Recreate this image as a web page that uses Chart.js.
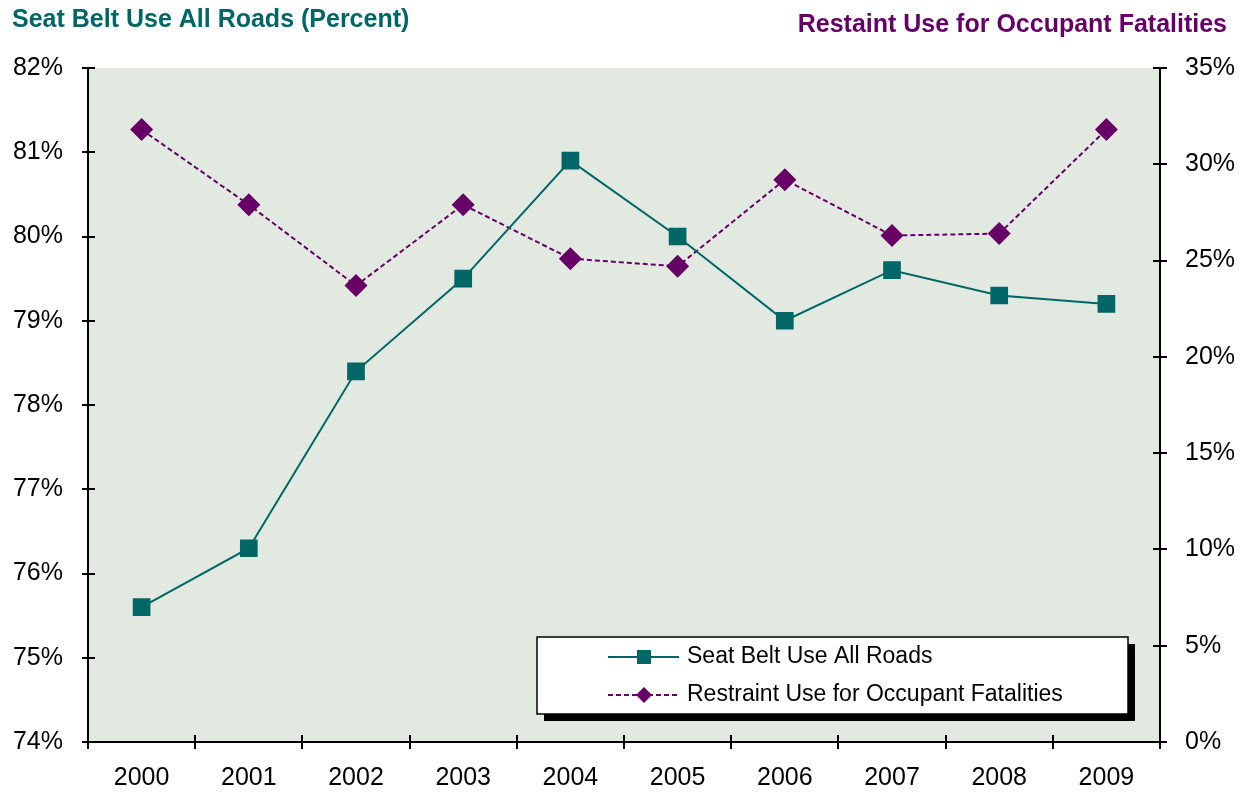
<!DOCTYPE html>
<html>
<head>
<meta charset="utf-8">
<script src="https://cdn.jsdelivr.net/npm/chart.js@4/dist/chart.umd.min.js"></script>
<style>
  body { margin: 0; background: #fff; }
  canvas { display: block; }
</style>
</head>
<body>
<canvas id="myChart" width="1245" height="795"></canvas>
<script>
const years = ['2000', '2001', '2002', '2003', '2004', '2005', '2006', '2007', '2008', '2009'];
const seatBelt = [75.6, 76.3, 78.4, 79.5, 80.9, 80.0, 79.0, 79.6, 79.3, 79.2];
const restraint = [31.8, 27.9, 23.7, 27.9, 25.1, 24.7, 29.2, 26.3, 26.4, 31.8];

const teal = '#006666';
const purple = '#660066';
const font = 'Liberation Sans, Arial, sans-serif';

// plot background + axis lines with ticks crossing the axis
const frame = {
    id: 'frame',
    beforeDraw(chart) {
        const { ctx, chartArea: a } = chart;
        ctx.save();
        ctx.fillStyle = '#e1e9e1';
        ctx.fillRect(a.left, a.top, a.right - a.left, a.bottom - a.top);
        ctx.restore();
    },
    afterDatasetsDraw(chart) {
        const { ctx, chartArea: a, scales } = chart;
        ctx.save();
        ctx.strokeStyle = '#000';
        ctx.lineWidth = 2;
        ctx.beginPath();
        ctx.moveTo(a.left, a.top); ctx.lineTo(a.left, a.bottom); ctx.lineTo(a.right, a.bottom);
        ctx.moveTo(a.right, a.top); ctx.lineTo(a.right, a.bottom);
        scales.y.ticks.forEach((t, i) => {
            const y = Math.round(scales.y.getPixelForTick(i));
            ctx.moveTo(a.left - 6, y); ctx.lineTo(a.left + 7, y);
        });
        scales.y2.ticks.forEach((t, i) => {
            const y = Math.round(scales.y2.getPixelForTick(i));
            ctx.moveTo(a.right - 7, y); ctx.lineTo(a.right + 7, y);
        });
        for (let i = 0; i <= years.length; i++) {
            const x = Math.round(a.left + i * (a.right - a.left) / years.length);
            ctx.moveTo(x, a.bottom - 7); ctx.lineTo(x, a.bottom + 7);
        }
        ctx.stroke();
        ctx.restore();
    },
    afterDraw(chart) {
        const { ctx } = chart;
        ctx.save();
        ctx.font = 'bold 25px ' + font;
        ctx.textBaseline = 'middle';
        ctx.fillStyle = teal;
        ctx.textAlign = 'left';
        ctx.fillText('Seat Belt Use All Roads (Percent)', 12, 20);
        ctx.fillStyle = purple;
        ctx.textAlign = 'right';
        ctx.fillText('Restaint Use for Occupant Fatalities', 1227, 25);

        // legend box
        const bx = 537, by = 637, bw = 591, bh = 77;
        ctx.fillStyle = '#000';
        ctx.fillRect(bx + 7, by + 7, bw, bh);
        ctx.fillStyle = '#fff';
        ctx.fillRect(bx, by, bw, bh);
        ctx.strokeStyle = '#000';
        ctx.lineWidth = 1.5;
        ctx.strokeRect(bx, by, bw, bh);
        const rows = [657, 695];
        chart.data.datasets.forEach((ds, i) => {
            const y = rows[i];
            ctx.strokeStyle = ds.borderColor;
            ctx.lineWidth = 2;
            ctx.setLineDash(ds.borderDash || []);
            ctx.beginPath();
            ctx.moveTo(608, y); ctx.lineTo(679, y);
            ctx.stroke();
            ctx.setLineDash([]);
            ctx.fillStyle = ds.pointBackgroundColor;
            ctx.beginPath();
            if (ds.pointStyle === 'rect') {
                ctx.rect(637, y - 7, 14, 14);
            } else {
                ctx.moveTo(644, y - 8); ctx.lineTo(652, y); ctx.lineTo(644, y + 8); ctx.lineTo(636, y);
                ctx.closePath();
            }
            ctx.fill();
            ctx.fillStyle = '#000';
            ctx.font = '23px ' + font;
            ctx.textAlign = 'left';
            ctx.fillText(ds.label, 687, y);
        });
        ctx.restore();
    }
};

const ctx = document.getElementById('myChart').getContext('2d');
new Chart(ctx, {
    type: 'line',
    data: {
        labels: years,
        datasets: [{
            label: 'Seat Belt Use All Roads',
            data: seatBelt,
            yAxisID: 'y',
            borderColor: teal,
            backgroundColor: teal,
            pointBackgroundColor: teal,
            pointBorderWidth: 0,
            pointStyle: 'rect',
            pointRadius: 12.5,
            borderWidth: 2,
            tension: 0,
            fill: false
        }, {
            label: 'Restraint Use for Occupant Fatalities',
            data: restraint,
            yAxisID: 'y2',
            borderColor: purple,
            backgroundColor: purple,
            pointBackgroundColor: purple,
            pointBorderWidth: 0,
            pointStyle: 'rectRot',
            pointRadius: 11.5,
            borderWidth: 2,
            borderDash: [5, 3],
            tension: 0,
            fill: false
        }]
    },
    options: {
        responsive: false,
        animation: false,
        layout: { padding: { left: 0, right: 0, top: 68, bottom: 0 } },
        plugins: { legend: { display: false }, tooltip: { enabled: false } },
        scales: {
            x: {
                offset: true,
                grid: { display: false, drawTicks: false },
                border: { display: false },
                ticks: { color: '#000', font: { family: font, size: 25 }, padding: 21, maxRotation: 0 },
                afterFit(s) { s.height = 53; }
            },
            y: {
                position: 'left',
                min: 74, max: 82,
                grid: { display: false, drawTicks: false },
                border: { display: false },
                ticks: { stepSize: 1, color: '#000', font: { family: font, size: 25 }, padding: 25,
                         callback: v => v + '%' },
                afterFit(s) { s.width = 88; }
            },
            y2: {
                position: 'right',
                min: 0, max: 35,
                grid: { display: false, drawTicks: false },
                border: { display: false },
                ticks: { stepSize: 5, color: '#000', font: { family: font, size: 25 }, padding: 25,
                         callback: v => v + '%' },
                afterFit(s) { s.width = 85; }
            }
        }
    },
    plugins: [frame]
});
</script>
</body>
</html>
